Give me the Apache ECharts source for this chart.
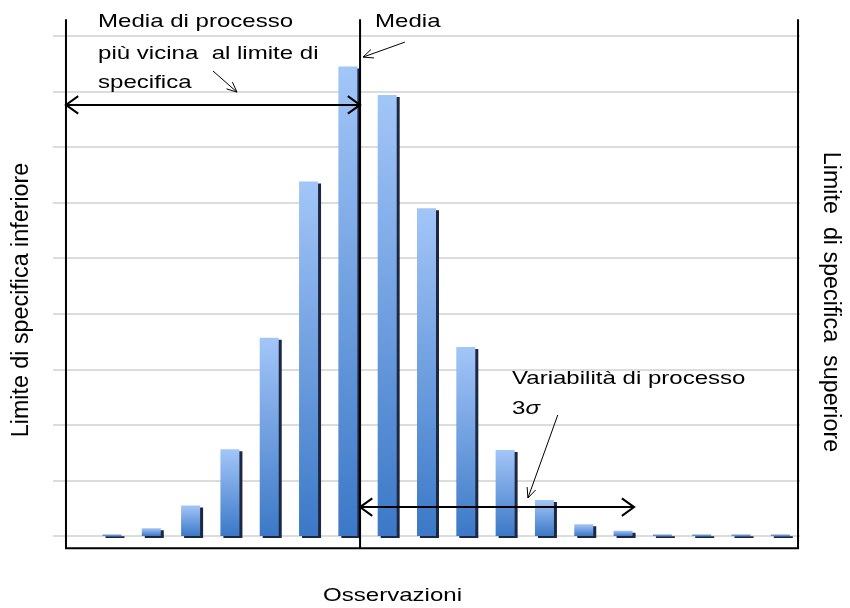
<!DOCTYPE html>
<html>
<head>
<meta charset="utf-8">
<title>Distribuzione delle osservazioni</title>
<script src="https://cdn.jsdelivr.net/npm/echarts@6/dist/echarts.min.js"></script>
<style>
  html, body { margin: 0; padding: 0; background: #ffffff; }
  #chart { width: 850px; height: 608px; }
</style>
</head>
<body>
<div id="chart"></div>
<script>
// Observation classes (x categories) and their relative frequencies
const observations = ['1', '2', '3', '4', '5', '6', '7', '8', '9', '10',
                      '11', '12', '13', '14', '15', '16', '17', '18', '19'];
const frequencies = [0, 0.03, 0.14, 0.55, 1.56, 3.57, 6.38, 8.45, 7.94, 5.9,
                     3.4, 1.55, 0.65, 0.21, 0.095, 0.03, 0.03, 0.03, 0.03];
const yTicks = [0, 1, 2, 3, 4, 5, 6, 7, 8, 9];

// Reference positions, in class-index units along x and frequency units along y
const lowerSpecLimit = -0.17;
const upperSpecLimit = 18.45;
const processMean = 7.31;
const spreadEnd = 14.28;
const limitTop = 9.30;
const limitBottom = -0.22;
const distanceArrowLevel = 7.76;
const spreadArrowLevel = 0.52;

const FONT = '"Liberation Sans", Arial, Helvetica, sans-serif';

const chart = echarts.init(document.getElementById('chart'), null, { renderer: 'canvas' });

chart.setOption({
  animation: false,
  backgroundColor: '#ffffff',
  grid: { left: 53, right: 50, top: 36, bottom: 72 },
  xAxis: [
    {
      type: 'category',
      data: observations,
      axisLine: { show: false },
      axisTick: { show: false },
      axisLabel: { show: false },
      splitLine: { show: false }
    },
    {
      // continuous twin of the class axis, used to place the reference lines
      type: 'value',
      min: -0.5,
      max: observations.length - 0.5,
      show: false
    }
  ],
  yAxis: {
    type: 'value',
    min: yTicks[0],
    max: yTicks[yTicks.length - 1],
    interval: yTicks[1] - yTicks[0],
    axisLine: { show: false },
    axisTick: { show: false },
    axisLabel: { show: false },
    splitLine: { show: true, lineStyle: { color: '#dcdcdc', width: 2 } }
  },
  series: [{
    type: 'bar',
    data: frequencies,
    barWidth: 19,
    itemStyle: {
      color: new echarts.graphic.LinearGradient(0, 0, 0, 1, [
        { offset: 0, color: '#a3c6f8' },
        { offset: 1, color: '#3b78c7' }
      ]),
      shadowColor: '#1c2842',
      shadowOffsetX: 3,
      shadowOffsetY: 2,
      shadowBlur: 0
    }
  }]
});

const toPx = (x, y) => chart.convertToPixel({ xAxisIndex: 1, yAxisIndex: 0 }, [x, y]);

// open chevron at `tip`, pointing away from `from`
function chevron(tip, from, len, half, width) {
  const a = Math.atan2(tip[1] - from[1], tip[0] - from[0]);
  return {
    type: 'polyline',
    z: 100,
    shape: {
      points: [
        [tip[0] - len * Math.cos(a - half), tip[1] - len * Math.sin(a - half)],
        tip,
        [tip[0] - len * Math.cos(a + half), tip[1] - len * Math.sin(a + half)]
      ]
    },
    style: { stroke: '#000', lineWidth: width, fill: null, lineJoin: 'miter' }
  };
}

function segment(p, q, width) {
  return {
    type: 'line', z: 100,
    shape: { x1: p[0], y1: p[1], x2: q[0], y2: q[1] },
    style: { stroke: '#000', lineWidth: width }
  };
}

function doubleArrow(p, q) {
  return [segment(p, q, 2), chevron(p, q, 15, 0.62, 2), chevron(q, p, 15, 0.62, 2)];
}

function pointer(from, to) {
  return [segment(from, to, 1), chevron(to, from, 11, 0.42, 1)];
}

function label(text, x, y, opts) {
  return Object.assign({
    type: 'text', z: 100, x: x, y: y, scaleX: 1.3, scaleY: 1.04,
    style: {
      text: text, fill: '#000', font: '18.5px ' + FONT,
      fontSize: 18.5, fontFamily: FONT,
      textAlign: 'left', align: 'left',
      textVerticalAlign: 'middle', verticalAlign: 'middle'
    }
  }, opts || {});
}

function sideLabel(text, x, y, rotation) {
  return {
    type: 'text', z: 100, x: x, y: y, rotation: rotation,
    style: {
      text: text, fill: '#000', font: '23.3px ' + FONT,
      textAlign: 'center', align: 'center',
      textVerticalAlign: 'middle', verticalAlign: 'middle'
    }
  };
}

const lt = toPx(lowerSpecLimit, limitTop);
const lb = toPx(lowerSpecLimit, limitBottom);
const ub = toPx(upperSpecLimit, limitBottom);
const ut = toPx(upperSpecLimit, limitTop);
const mt = toPx(processMean, limitTop);
const mb = toPx(processMean, limitBottom);

const elements = [
  {
    type: 'polyline', z: 100,
    shape: { points: [lt, lb, ub, ut] },
    style: { stroke: '#000', lineWidth: 2, fill: null, lineJoin: 'miter' }
  },
  segment(mt, mb, 2),
  ...doubleArrow(toPx(lowerSpecLimit, distanceArrowLevel), toPx(processMean, distanceArrowLevel)),
  ...doubleArrow(toPx(processMean, spreadArrowLevel), toPx(spreadEnd, spreadArrowLevel)),
  ...pointer(toPx(3.57, 8.37), toPx(4.18, 7.99)),
  ...pointer(toPx(8.45, 8.89), toPx(7.385, 8.62)),
  ...pointer(toPx(12.34, 2.18), toPx(11.58, 0.684)),

  label('Media di processo', 98, 21.5),
  label('più vicina  al limite di', 98, 53.5),
  label('specifica', 98, 82.5),
  label('Media', 375, 21.5),
  label('Variabilità di processo', 512, 378.5),
  {
    type: 'text', z: 100, x: 512, y: 408.5, scaleX: 1.3, scaleY: 1.04,
    style: {
      text: '{n|3}{s|σ}',
      fill: '#000', font: '18.5px ' + FONT,
      textAlign: 'left', align: 'left',
      textVerticalAlign: 'middle', verticalAlign: 'middle',
      rich: {
        n: { fontSize: 18.5, fontFamily: FONT, fill: '#000' },
        s: { fontSize: 18.5, fontFamily: FONT, fontStyle: 'italic', fill: '#000' }
      }
    }
  },
  label('Osservazioni', 392.5, 596, {
    style: {
      text: 'Osservazioni', fill: '#000', font: '18.5px ' + FONT,
      textAlign: 'center', align: 'center',
      textVerticalAlign: 'middle', verticalAlign: 'middle'
    }
  }),
  sideLabel('Limite di specifica inferiore', 22, 300, Math.PI / 2),
  sideLabel('Limite  di specifica  superiore', 830, 302, -Math.PI / 2)
];

chart.setOption({ graphic: { elements: elements } });
</script>
</body>
</html>
